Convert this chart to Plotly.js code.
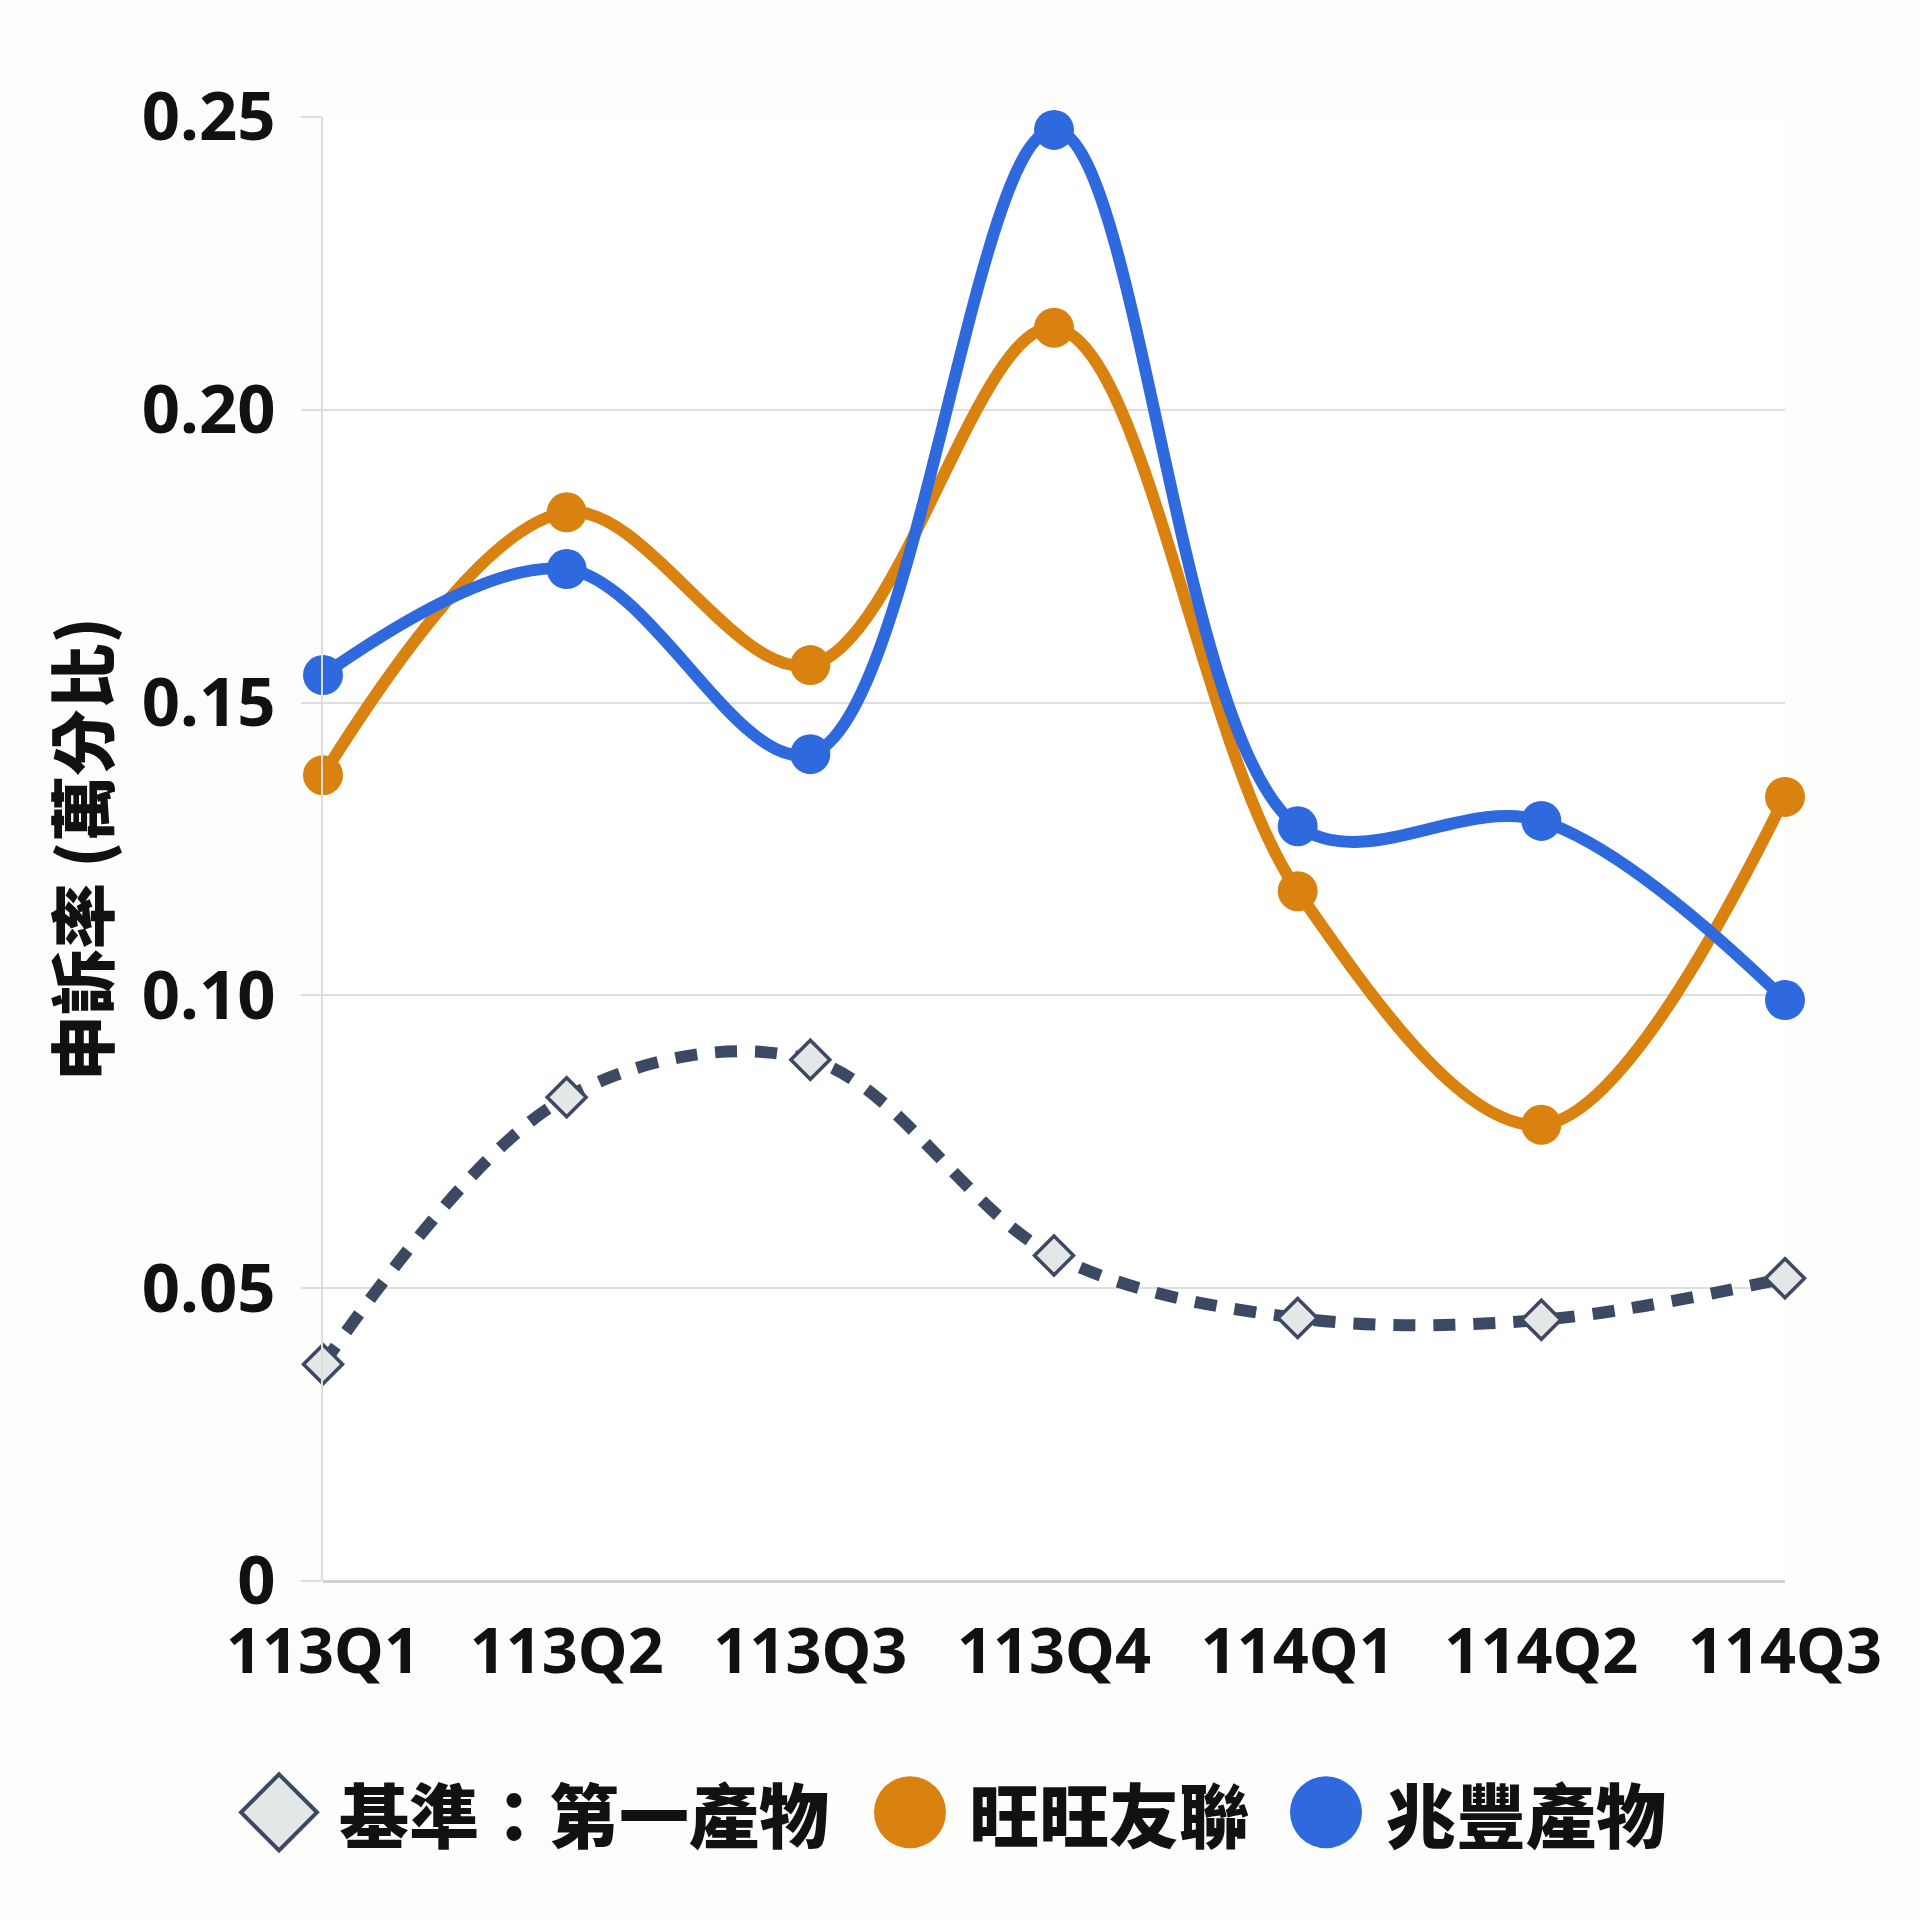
<!DOCTYPE html>
<html>
<head>
<meta charset="utf-8">
<script src="https://cdn.plot.ly/plotly-3.0.1.min.js"></script>
<style>
  html, body { margin: 0; padding: 0; background: #fdfdfc; }
  #chart { width: 1920px; height: 1920px; }
</style>
</head>
<body>
<div id="chart"></div>
<script>
// quarters on the x axis
const quarters = ['113Q1', '113Q2', '113Q3', '113Q4', '114Q1', '114Q2', '114Q3'];

// complaint rate, per ten thousand
const benchmark = [0.037, 0.0826, 0.089, 0.0556, 0.0449, 0.0446, 0.0517];
const wangwang = [0.1376, 0.1825, 0.1564, 0.214, 0.1178, 0.0779, 0.1339];
const zhaofeng = [0.1547, 0.1728, 0.1412, 0.2478, 0.1289, 0.1298, 0.0992];

const seriesNames = ['基準：第一產物', '旺旺友聯', '兆豐產物'];

const yTickVals = [0, 0.05, 0.10, 0.15, 0.20, 0.25];
const yTickText = ['0', '0.05', '0.10', '0.15', '0.20', '0.25'];

const NAVY = '#3b4962';
const ORANGE = '#d9820f';
const BLUE = '#2f69de';
const NUM_FONT = 'Noto Sans, Roboto, sans-serif';
const CJK_FONT = 'Noto Sans CJK TC, Noto Sans CJK SC, sans-serif';

const traceBench = {
  x: quarters, y: benchmark, name: seriesNames[0],
  type: 'scatter', mode: 'lines+markers', cliponaxis: false,
  line: { color: NAVY, width: 12, dash: '22px,18px', shape: 'spline', smoothing: 1 },
  marker: { symbol: 'diamond', size: 30, color: '#e4e7e7', line: { color: NAVY, width: 3.5 } }
};

const traceWang = {
  x: quarters, y: wangwang, name: seriesNames[1],
  type: 'scatter', mode: 'lines+markers', cliponaxis: false,
  line: { color: ORANGE, width: 12, shape: 'spline', smoothing: 1 },
  marker: { size: 40, color: ORANGE }
};

const traceZhao = {
  x: quarters, y: zhaofeng, name: seriesNames[2],
  type: 'scatter', mode: 'lines+markers', cliponaxis: false,
  line: { color: BLUE, width: 12, shape: 'spline', smoothing: 1 },
  marker: { size: 40, color: BLUE }
};

// hand-made legend below the plot (plotly caps legend marker size)
const legendY = -0.158;
const legendItems = [
  { sym: 'diamond', color: '#e4e7e7', x: (279 - 323) / 1462, tx: (337 - 323) / 1462 },
  { sym: 'circle', color: ORANGE, x: (910 - 323) / 1462, tx: (967 - 323) / 1462 },
  { sym: 'circle', color: BLUE, x: (1326 - 323) / 1462, tx: (1384 - 323) / 1462 }
];

const shapes = legendItems.map(it => {
  if (it.sym === 'diamond') {
    return {
      type: 'path', xref: 'paper', yref: 'paper',
      xsizemode: 'pixel', ysizemode: 'pixel',
      xanchor: it.x, yanchor: legendY,
      path: 'M -38 0 L 0 38 L 38 0 L 0 -38 Z',
      fillcolor: it.color, line: { color: NAVY, width: 4 }
    };
  }
  return {
    type: 'circle', xref: 'paper', yref: 'paper',
    xsizemode: 'pixel', ysizemode: 'pixel',
    xanchor: it.x, yanchor: legendY,
    x0: -36, x1: 36, y0: -36, y1: 36,
    fillcolor: it.color, line: { width: 0 }
  };
});

const annotations = legendItems.map((it, i) => ({
  xref: 'paper', yref: 'paper', x: it.tx, y: legendY,
  xanchor: 'left', yanchor: 'middle', showarrow: false,
  text: seriesNames[i],
  font: { family: CJK_FONT, size: 70, color: '#111', weight: 900 }
}));

const layout = {
  width: 1920, height: 1920,
  paper_bgcolor: '#fdfdfc', plot_bgcolor: '#ffffff',
  margin: { l: 323, r: 135, t: 117, b: 339 },
  showlegend: false,
  xaxis: {
    type: 'category', range: [0, 6],
    showgrid: false, showline: false, zeroline: false, ticks: '',
    tickangle: 0,
    ticklabelstandoff: 28,
    tickfont: { family: NUM_FONT, size: 63, color: '#111', weight: 'bold' }
  },
  yaxis: {
    range: [0, 0.25],
    tickvals: yTickVals, ticktext: yTickText,
    showgrid: true, gridcolor: '#dedede', gridwidth: 2,
    zeroline: true, zerolinecolor: '#cfcfcf', zerolinewidth: 3,
    showline: true, linecolor: '#dedede', linewidth: 2,
    ticks: 'outside', ticklen: 20, tickcolor: '#dedede', tickwidth: 2,
    ticklabelstandoff: 12,
    tickfont: { family: NUM_FONT, size: 67, color: '#111', weight: 'bold' },
    title: {
      text: '申訴率 (萬分比)', standoff: 12,
      font: { family: CJK_FONT, size: 66, color: '#111', weight: 900 }
    }
  },
  shapes: shapes,
  annotations: annotations
};

Plotly.newPlot('chart', [traceBench, traceWang, traceZhao], layout, { staticPlot: true });
</script>
</body>
</html>
